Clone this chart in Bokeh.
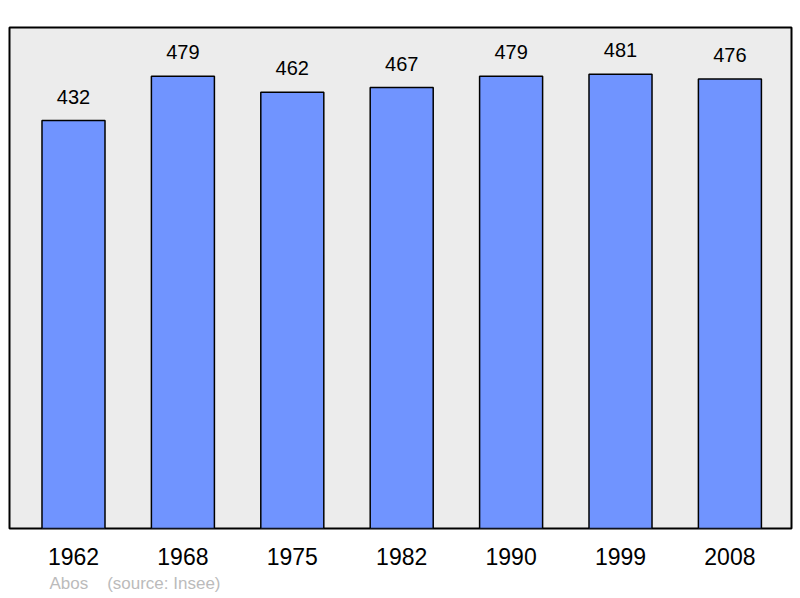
from bokeh.plotting import figure
from bokeh.models import Range1d, FixedTicker, Title, ColumnDataSource
from bokeh.core.properties import value
from bokeh.embed import file_html
from bokeh.resources import INLINE

years = ["1962", "1968", "1975", "1982", "1990", "1999", "2008"]
population = [432, 479, 462, 467, 479, 481, 476]
commune = "Abos"
source_note = "(source: Insee)"

idx = list(range(len(years)))
src = ColumnDataSource(dict(x=idx, top=population, label=[str(v) for v in population]))

p = figure(width=800, height=598, output_backend="svg", toolbar_location=None,
           x_range=Range1d(-0.585, 6.563), y_range=Range1d(0, 530.6),
           min_border_left=9, min_border_right=9, min_border_top=27, min_border_bottom=70)
p.background_fill_color = "#ececec"
p.border_fill_color = "white"
p.outline_line_color = "black"
p.outline_line_width = 2
p.grid.visible = False
p.yaxis.visible = False

p.vbar(x="x", top="top", bottom=0, width=0.576, source=src,
       fill_color="#7094ff", line_color="black", line_width=1.5)
p.text(x="x", y="top", text="label", source=src, text_align="center",
       text_baseline="alphabetic", y_offset=-24, text_font=value("Liberation Sans"),
       text_font_size="20px", text_color="black")

ax = p.xaxis[0]
ax.ticker = FixedTicker(ticks=idx)
ax.major_label_overrides = {i: y for i, y in zip(idx, years)}
ax.axis_line_color = None
ax.major_tick_line_color = None
ax.minor_tick_line_color = None
ax.major_label_text_font = "Liberation Sans"
ax.major_label_text_font_size = "23px"
ax.major_label_text_color = "black"
ax.major_label_standoff = 13

note = Title(text=commune + "\u00a0\u00a0\u00a0\u00a0" + source_note, align="left",
             offset=40, standoff=9, text_font="Liberation Sans", text_font_size="17px",
             text_font_style="normal", text_color="#bbbbbb")
p.add_layout(note, "below")

open("out.html", "w").write(file_html(p, INLINE))
